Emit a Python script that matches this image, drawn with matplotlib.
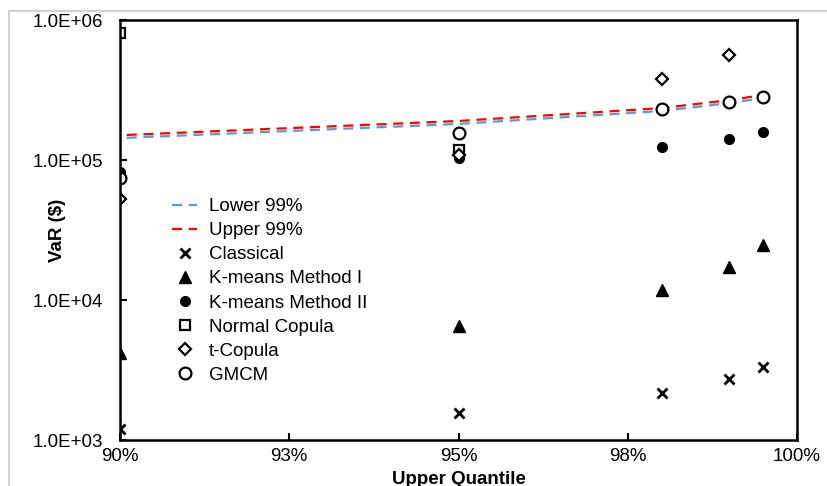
import math
import matplotlib.pyplot as plt
from matplotlib.patches import Rectangle
from matplotlib.ticker import FuncFormatter, LogLocator, NullLocator

# quantile levels (%)
quantiles = [90, 95, 98, 99, 99.5]

classical = [1.2e3, 1.56e3, 2.17e3, 2.73e3, 3.32e3]
kmeans_1 = [4.2e3, 6.5e3, 1.18e4, 1.72e4, 2.47e4]
kmeans_2 = [8.2e4, 1.03e5, 1.24e5, 1.41e5, 1.58e5]
normal_q = [90, 95]
normal_copula = [8.07e5, 1.18e5]
tcop_q = [90, 95, 98, 99]
t_copula = [5.27e4, 1.08e5, 3.79e5, 5.62e5]
gmcm = [7.4e4, 1.56e5, 2.31e5, 2.6e5, 2.82e5]

band_q = [90.1, 95, 98, 99, 99.5]
lower_99 = [1.44e5, 1.81e5, 2.24e5, 2.55e5, 2.77e5]
upper_99 = [1.51e5, 1.90e5, 2.35e5, 2.68e5, 2.91e5]

plt.rcParams["font.family"] = ["Liberation Sans", "DejaVu Sans"]

fig = plt.figure(figsize=(8.28, 4.86), dpi=100)
ax = fig.add_axes([120 / 828, 1 - 440 / 486, 677 / 828, 420 / 486])

# light grey frame around the picture
fig.patches.append(Rectangle((9 / 828, -0.1), 1.2, 1 - 11 / 486 + 0.1,
                             transform=fig.transFigure, fill=False,
                             edgecolor="#c8c8c8", linewidth=1.2))

ax.plot(band_q, lower_99, "--", color="#5b9bd5", lw=1.6, dashes=(4.5, 3), label="Lower 99%")
ax.plot(band_q, upper_99, "--", color="#ff0000", lw=1.6, dashes=(4.5, 3), label="Upper 99%")
ax.plot(quantiles, classical, "x", color="black", ms=6.5, mew=2, label="Classical")
ax.plot(quantiles, kmeans_1, "^", color="black", ms=8, label="K-means Method I")
ax.plot(quantiles, kmeans_2, "o", color="black", ms=7, label="K-means Method II")
ax.plot(normal_q, normal_copula, "s", mfc="white", mec="black", ms=7, mew=1.6, label="Normal Copula")
ax.plot(tcop_q, t_copula, "D", mfc="white", mec="black", ms=6.3, mew=1.6, label="t-Copula")
ax.plot(quantiles, gmcm, "o", mfc="white", mec="black", ms=8.5, mew=1.6, label="GMCM")

ax.set_yscale("log")
ax.set_ylim(1e3, 1e6)
ax.set_xlim(90, 100)
ax.yaxis.set_major_locator(LogLocator(base=10, numticks=10))
ax.yaxis.set_minor_locator(NullLocator())
ax.yaxis.set_major_formatter(FuncFormatter(lambda v, p: "1.0E+%02d" % round(math.log10(v))))
ax.set_xticks([90, 92.5, 95, 97.5, 100])
ax.xaxis.set_major_formatter(FuncFormatter(lambda v, p: "%d%%" % round(v + 0.01)))

ax.tick_params(direction="in", length=5, width=1.5, labelsize=13.5)
ax.tick_params(axis="y", pad=12)
ax.tick_params(axis="x", pad=6)
for s in ax.spines.values():
    s.set_linewidth(1.8)

ax.set_xlabel("Upper Quantile", fontweight="bold", fontsize=13.5)
ax.xaxis.set_label_coords(0.5, -39 / 420)
ax.set_ylabel("VaR ($)", fontweight="bold", fontsize=13.5)
ax.yaxis.set_label_coords(-63 / 677, 0.5)
ax.yaxis.label.set_va("center")
ax.xaxis.label.set_va("center")

ax.legend(loc="upper left", bbox_to_anchor=(39 / 677, 1 - 165 / 420), frameon=False,
          fontsize=13.5, handlelength=1.35, labelspacing=0.37, handletextpad=0.6,
          borderpad=0.2)

fig.savefig("out.png", dpi=100)
